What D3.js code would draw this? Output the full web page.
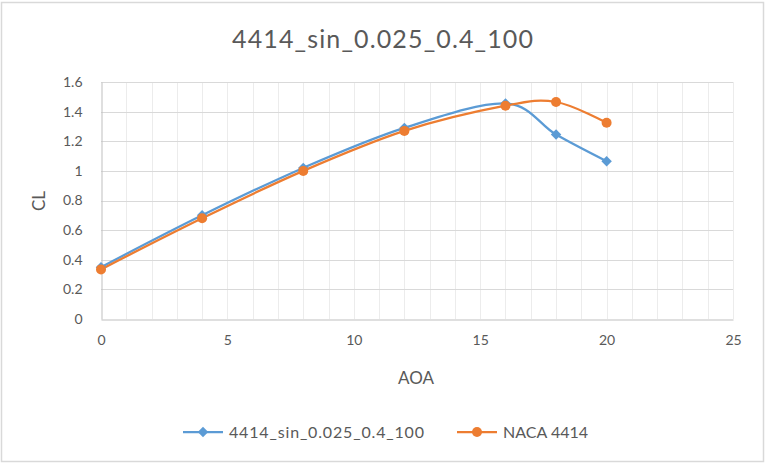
<!DOCTYPE html>
<html>
<head>
<meta charset="utf-8">
<script src="https://cdn.jsdelivr.net/npm/d3@7"></script>
<style>
  html, body { margin: 0; padding: 0; background: #fff; }
  svg { display: block; }
</style>
</head>
<body>
<svg id="chart" width="767" height="463"></svg>
<script>
// Lift coefficient vs angle of attack for two airfoils
const aoa = [0, 4, 8, 12, 16, 18, 20];
const clSin = [0.35, 0.70, 1.02, 1.29, 1.455, 1.245, 1.065];
const clNaca = [0.335, 0.68, 1.00, 1.27, 1.44, 1.465, 1.325];
const seriesNames = ["4414_sin_0.025_0.4_100", "NACA 4414"];
const xTicks = [0, 5, 10, 15, 20, 25];
const yTicks = [0, 0.2, 0.4, 0.6, 0.8, 1, 1.2, 1.4, 1.6];
const xGrid = d3.range(0, 26, 1);

const W = 767, H = 463;
const m = { left: 101, right: 733, top: 82, bottom: 319 };
const blue = "#5b9bd5", orange = "#ed7d31";
const font = "Lato, 'Open Sans', sans-serif";

const svg = d3.select("#chart");

// chart frame
svg.append("rect").attr("x", 1.5).attr("y", 2.5).attr("width", W - 5).attr("height", H - 4)
  .attr("fill", "#fff").attr("stroke", "#d9d9d9").attr("stroke-width", 1.5);

const x = d3.scaleLinear().domain([0, 25]).range([m.left, m.right]);
const y = d3.scaleLinear().domain([0, 1.6]).range([m.bottom, m.top]);

// vertical grid (every unit)
svg.append("g").selectAll("line").data(xGrid.filter(d => d > 0)).join("line")
  .attr("x1", d => Math.round(x(d)) + 0.5).attr("x2", d => Math.round(x(d)) + 0.5)
  .attr("y1", m.top).attr("y2", m.bottom)
  .attr("stroke", "#ececec").attr("stroke-width", 1);

// horizontal grid
svg.append("g").selectAll("line").data(yTicks.filter(d => d > 0)).join("line")
  .attr("x1", m.left).attr("x2", m.right)
  .attr("y1", d => Math.round(y(d)) + 0.5).attr("y2", d => Math.round(y(d)) + 0.5)
  .attr("stroke", "#d9d9d9").attr("stroke-width", 1);

// axes
const xAxis = svg.append("g").attr("transform", `translate(0,${Math.round(y(0)) + 0.5})`)
  .call(d3.axisBottom(x).tickValues(xTicks).tickSize(0).tickPadding(16).tickFormat(d3.format("d")));
const yAxis = svg.append("g").attr("transform", `translate(${Math.round(x(0)) + 0.5},0)`)
  .call(d3.axisLeft(y).tickValues(yTicks).tickSize(0).tickPadding(19).tickFormat(d => d3.format("")(d)));
[xAxis, yAxis].forEach(a => {
  a.select(".domain").attr("stroke", "#bfbfbf").attr("stroke-width", 1);
  a.selectAll("text").attr("fill", "#595959").style("font-family", font).style("font-size", "14px");
});

// titles
svg.append("text").attr("x", 232).attr("y", 48)
  .attr("textLength", 301).attr("lengthAdjust", "spacing")
  .attr("fill", "#595959").style("font-family", font).style("font-size", "25px")
  .text("4414_sin_0.025_0.4_100");
svg.append("text").attr("x", 416).attr("y", 384).attr("text-anchor", "middle")
  .attr("fill", "#595959").style("font-family", font).style("font-size", "17px").text("AOA");
svg.append("text").attr("transform", "translate(45,201) rotate(-90)").attr("text-anchor", "middle")
  .attr("fill", "#595959").style("font-family", font).style("font-size", "17px").text("CL");

// smoothed series lines
const line = d3.line().x(d => x(d[0])).y(d => y(d[1])).curve(d3.curveCatmullRom.alpha(0));
const sinPts = aoa.map((a, i) => [a, clSin[i]]);
const nacaPts = aoa.map((a, i) => [a, clNaca[i]]);

svg.append("path").datum(sinPts).attr("d", line)
  .attr("fill", "none").attr("stroke", blue).attr("stroke-width", 2.25);
svg.append("path").datum(nacaPts).attr("d", line)
  .attr("fill", "none").attr("stroke", orange).attr("stroke-width", 2.25);

const diamondPath = d3.symbol().type(d3.symbolSquare).size(55)();
svg.append("g").selectAll("path").data(sinPts).join("path")
  .attr("d", diamondPath)
  .attr("transform", d => `translate(${x(d[0])},${y(d[1])}) rotate(45)`)
  .attr("fill", blue);
svg.append("g").selectAll("circle").data(nacaPts).join("circle")
  .attr("cx", d => x(d[0])).attr("cy", d => y(d[1])).attr("r", 5)
  .attr("fill", orange);

// legend
const legend = svg.append("g");
const items = [
  { name: seriesNames[0], color: blue, x0: 183, marker: "diamond", len: 195 },
  { name: seriesNames[1], color: orange, x0: 457, marker: "circle", len: 85 }
];
items.forEach(it => {
  const g = legend.append("g").attr("transform", `translate(${it.x0},432)`);
  g.append("line").attr("x1", 0).attr("x2", 40).attr("y1", 0).attr("y2", 0)
    .attr("stroke", it.color).attr("stroke-width", 2.25);
  if (it.marker === "diamond") {
    g.append("path").attr("d", diamondPath)
      .attr("transform", "translate(20,0) rotate(45)").attr("fill", it.color);
  } else {
    g.append("circle").attr("cx", 20).attr("cy", 0).attr("r", 5).attr("fill", it.color);
  }
  g.append("text").attr("x", 46).attr("y", 6).attr("fill", "#595959")
    .attr("textLength", it.len).attr("lengthAdjust", "spacing")
    .style("font-family", font).style("font-size", "16px").text(it.name);
});
</script>
</body>
</html>
